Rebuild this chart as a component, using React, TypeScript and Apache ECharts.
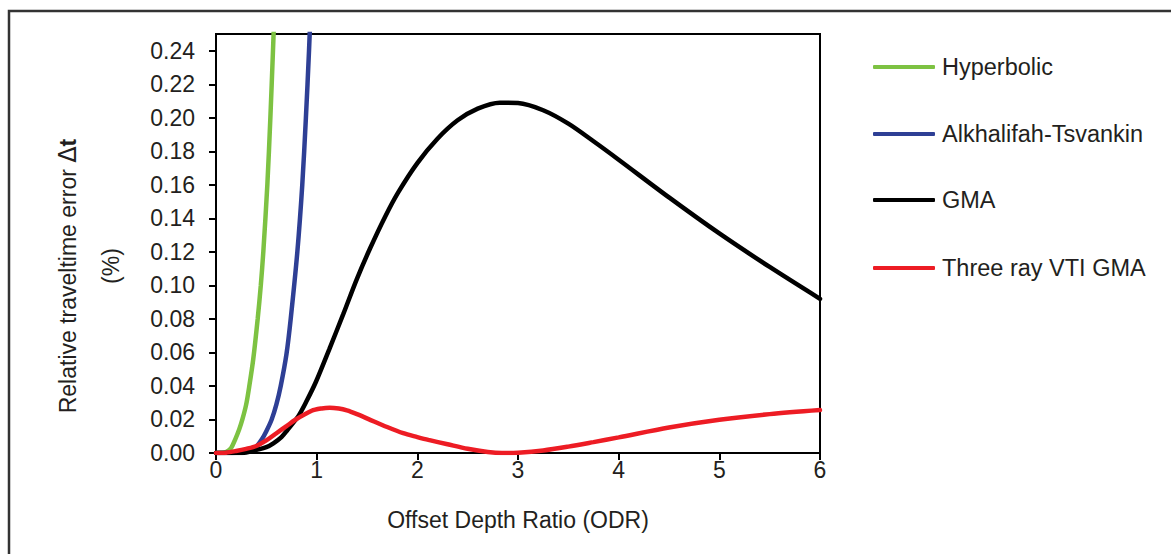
import React, { useEffect, useRef } from "react";
import * as echarts from "echarts";

const seriesNames = ["Hyperbolic", "Alkhalifah-Tsvankin", "GMA", "Three ray VTI GMA"];
const seriesColors = ["#7DC242", "#2E3F95", "#000000", "#ED1C24"];

const hyperbolic: [number, number][] = [
  [0, 0], [0.05, 0.0001], [0.1, 0.0006], [0.15, 0.003], [0.19, 0.008], [0.23, 0.014],
  [0.262, 0.02], [0.3, 0.029], [0.331, 0.04], [0.37, 0.056], [0.414, 0.08], [0.445, 0.1],
  [0.47, 0.12], [0.51, 0.16], [0.54, 0.2], [0.566, 0.24], [0.59, 0.28],
];

const alkhalifah: [number, number][] = [
  [0, 0], [0.1, 0], [0.2, 0.0001], [0.27, 0.0006], [0.33, 0.0015], [0.39, 0.003],
  [0.454, 0.008], [0.5, 0.013], [0.553, 0.02], [0.6, 0.029], [0.643, 0.04], [0.7, 0.059],
  [0.742, 0.08], [0.808, 0.12], [0.857, 0.16], [0.893, 0.2], [0.924, 0.24], [0.95, 0.28],
];

const gma: [number, number][] = [
  [0, 0], [0.2, 0], [0.3, 0.0003], [0.4, 0.0018], [0.5, 0.0035], [0.57, 0.0058],
  [0.65, 0.0095], [0.709, 0.0137], [0.818, 0.022], [0.9, 0.031], [0.993, 0.0425],
  [1.126, 0.062], [1.265, 0.083], [1.397, 0.1035], [1.53, 0.122], [1.68, 0.141],
  [1.81, 0.1555], [2.0, 0.173], [2.2, 0.1875], [2.4, 0.1985], [2.6, 0.2055], [2.82, 0.209],
  [3.0, 0.2088], [3.25, 0.2045], [3.5, 0.1965], [3.75, 0.186], [4.0, 0.175], [4.5, 0.1525],
  [5.0, 0.131], [5.5, 0.111], [6.0, 0.092],
];

const threeRay: [number, number][] = [
  [0, 0], [0.1, 0.0002], [0.2, 0.0012], [0.3, 0.0025], [0.4, 0.0042], [0.5, 0.0075],
  [0.6, 0.0118], [0.7, 0.016], [0.785, 0.0197], [0.95, 0.0252], [1.05, 0.0266],
  [1.13, 0.027], [1.22, 0.0265], [1.3, 0.0254], [1.4, 0.0232], [1.51, 0.0204],
  [1.7, 0.0155], [1.86, 0.0118], [2.0, 0.0095], [2.11, 0.0078], [2.3, 0.0052],
  [2.5, 0.0025], [2.7, 0.0006], [2.84, 0], [3.0, 0.0002], [3.25, 0.0015], [3.5, 0.0038],
  [3.75, 0.0065], [4.0, 0.0093], [4.5, 0.0152], [5.0, 0.0198], [5.5, 0.0232], [6.0, 0.0256],
];

const seriesData = [hyperbolic, alkhalifah, gma, threeRay];

const yTicks = [0, 0.02, 0.04, 0.06, 0.08, 0.1, 0.12, 0.14, 0.16, 0.18, 0.2, 0.22, 0.24];
const xTicks = [0, 1, 2, 3, 4, 5, 6];
const legendLineY = [67, 134, 200, 268];

const FONT = "'Liberation Sans', Arial, Helvetica, sans-serif";
const TEXT = "#231F20";

export default function App() {
  const ref = useRef<HTMLDivElement>(null);

  useEffect(() => {
    document.body.style.margin = "0";
    if (!ref.current) return;
    const chart = echarts.init(ref.current, null, { renderer: "svg" });

    const option: any = {
      animation: false,
      backgroundColor: "#ffffff",
      textStyle: { fontFamily: FONT, color: TEXT },
      grid: {
        left: 216,
        top: 34,
        width: 604,
        height: 419,
        show: true,
        borderColor: "#000",
        borderWidth: 2,
        backgroundColor: "transparent",
      },
      xAxis: {
        type: "value",
        min: 0,
        max: 6,
        interval: 1,
        name: "Offset Depth Ratio (ODR)",
        nameLocation: "middle",
        nameGap: 55,
        nameTextStyle: { fontSize: 23, color: TEXT, fontFamily: FONT },
        axisLine: { show: true, lineStyle: { color: "#000", width: 2 } },
        axisTick: { show: true, inside: false, length: 7, lineStyle: { color: "#000", width: 2 }, customValues: xTicks },
        axisLabel: { fontSize: 23, color: TEXT, margin: 5, fontFamily: FONT, customValues: xTicks },
        splitLine: { show: false },
      },
      yAxis: {
        type: "value",
        min: 0,
        max: 0.25,
        axisLine: { show: true, lineStyle: { color: "#000", width: 2 } },
        axisTick: { show: true, inside: false, length: 7, lineStyle: { color: "#000", width: 2 }, customValues: yTicks },
        axisLabel: {
          fontSize: 23,
          color: TEXT,
          margin: 21,
          fontFamily: FONT,
          customValues: yTicks,
          formatter: (v: number) => v.toFixed(2),
        },
        splitLine: { show: false },
      },
      legend: seriesNames.map((n, i) => ({
        data: [{ name: n, icon: "roundRect" }],
        orient: "vertical",
        left: 873,
        top: legendLineY[i] - 12,
        itemWidth: 62,
        itemHeight: 4,
        padding: 0,
        selectedMode: false,
        textStyle: { fontSize: 23.5, color: TEXT, fontFamily: FONT, padding: [0, 0, 0, 2] },
      })),
      series: seriesNames.map((n, i) => ({
        name: n,
        type: "line",
        data: seriesData[i],
        color: seriesColors[i],
        showSymbol: false,
        smooth: 0.3,
        clip: true,
        lineStyle: { width: 4.5, color: seriesColors[i], cap: "round" },
      })),
      graphic: [
        {
          type: "rect",
          silent: true,
          z: -10,
          shape: { x: 9, y: 11, width: 1250, height: 650 },
          style: { fill: "none", stroke: "#333333", lineWidth: 2.5 },
        },
        {
          type: "text",
          x: 68,
          y: 276,
          rotation: Math.PI / 2,
          style: {
            text: "{n|Relative traveltime error }{d|Δ}{b|t}",
            rich: {
              n: { fontSize: 23, fontFamily: FONT, fill: TEXT, color: TEXT },
              d: { fontSize: 24, fontFamily: "'DejaVu Sans', " + FONT, fill: TEXT, color: TEXT },
              b: { fontSize: 23, fontFamily: FONT, fontWeight: "bold", fill: TEXT, color: TEXT },
            },
            textAlign: "center",
            textVerticalAlign: "middle",
            align: "center",
            verticalAlign: "middle",
            fill: TEXT,
          },
        },
        {
          type: "text",
          x: 111,
          y: 266,
          rotation: Math.PI / 2,
          style: {
            text: "(%)",
            font: "23px " + FONT,
            fill: TEXT,
            textAlign: "center",
            textVerticalAlign: "middle",
            align: "center",
            verticalAlign: "middle",
          },
        },
      ],
    };

    chart.setOption(option);
    return () => chart.dispose();
  }, []);

  return <div ref={ref} style={{ width: 1171, height: 554 }} />;
}
